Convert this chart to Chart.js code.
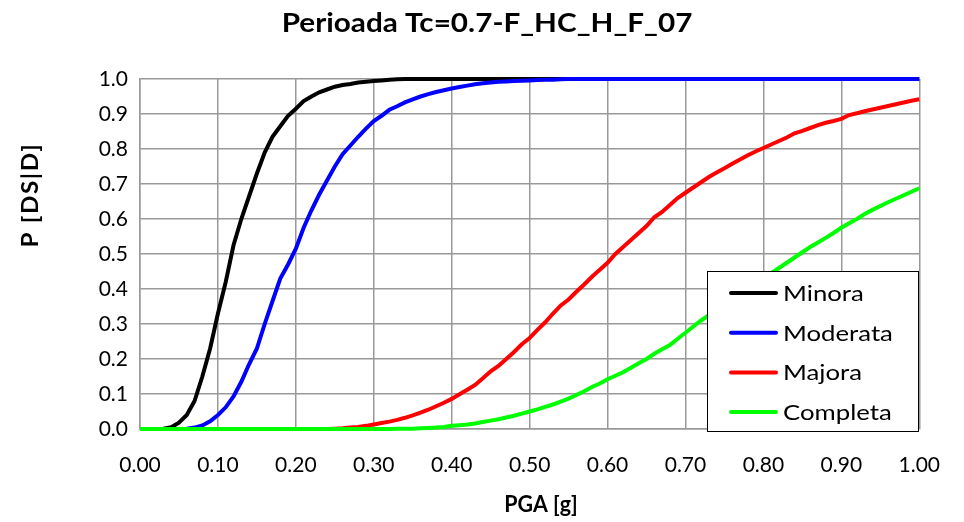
<!DOCTYPE html>
<html lang="ro">
<head>
  <meta charset="UTF-8">
  <title>Perioada Tc=0.7-F_HC_H_F_07</title>
  <script src="https://cdn.jsdelivr.net/npm/chart.js@4.4.1/dist/chart.umd.min.js"></script>
  <style>
    html, body { margin: 0; padding: 0; background: #fff; }
    #wrap { width: 964px; height: 522px; }
  </style>
</head>
<body>
  <div id="wrap"><canvas id="fragility"></canvas></div>
  <script>
    // PGA [g] values along the x axis
    const pga = [
      0.00, 0.01, 0.02, 0.03, 0.04, 0.05, 0.06, 0.07, 0.08, 0.09,
      0.10, 0.11, 0.12, 0.13, 0.14, 0.15, 0.16, 0.17, 0.18, 0.19,
      0.20, 0.21, 0.22, 0.23, 0.24, 0.25, 0.26, 0.27, 0.28, 0.29,
      0.30, 0.31, 0.32, 0.33, 0.34, 0.35, 0.36, 0.37, 0.38, 0.39,
      0.40, 0.41, 0.42, 0.43, 0.44, 0.45, 0.46, 0.47, 0.48, 0.49,
      0.50, 0.51, 0.52, 0.53, 0.54, 0.55, 0.56, 0.57, 0.58, 0.59,
      0.60, 0.61, 0.62, 0.63, 0.64, 0.65, 0.66, 0.67, 0.68, 0.69,
      0.70, 0.71, 0.72, 0.73, 0.74, 0.75, 0.76, 0.77, 0.78, 0.79,
      0.80, 0.81, 0.82, 0.83, 0.84, 0.85, 0.86, 0.87, 0.88, 0.89,
      0.90, 0.91, 0.92, 0.93, 0.94, 0.95, 0.96, 0.97, 0.98, 0.99,
      1.00
    ];

    // P[DS|D] for each damage state
    const minora = [
      0, 0, 0, 0.001, 0.005, 0.018, 0.04, 0.08, 0.15, 0.23,
      0.33, 0.42, 0.525, 0.60, 0.665, 0.73, 0.79, 0.835, 0.865, 0.895,
      0.915, 0.937, 0.95, 0.962, 0.97, 0.978, 0.983, 0.986, 0.99, 0.992,
      0.994, 0.996, 0.998, 0.999, 1, 1, 1, 1, 1, 1,
      1, 1, 1, 1, 1, 1, 1, 1, 1, 1,
      1, 1, 1, 1, 1, 1, 1, 1, 1, 1,
      1, 1, 1, 1, 1, 1, 1, 1, 1, 1,
      1, 1, 1, 1, 1, 1, 1, 1, 1, 1,
      1, 1, 1, 1, 1, 1, 1, 1, 1, 1,
      1, 1, 1, 1, 1, 1, 1, 1, 1, 1,
      1
    ];
    const moderata = [
      0, 0, 0, 0, 0, 0, 0.001, 0.004, 0.01, 0.022,
      0.04, 0.062, 0.093, 0.135, 0.185, 0.23, 0.30, 0.365, 0.43, 0.47,
      0.515, 0.575, 0.625, 0.67, 0.71, 0.75, 0.785, 0.81, 0.835, 0.858,
      0.88, 0.895, 0.912, 0.922, 0.933, 0.942, 0.95, 0.957, 0.963, 0.968,
      0.973, 0.977, 0.981, 0.985, 0.988, 0.99, 0.992, 0.993, 0.994, 0.995,
      0.996, 0.997, 0.998, 0.998, 0.999, 1, 1, 1, 1, 1,
      1, 1, 1, 1, 1, 1, 1, 1, 1, 1,
      1, 1, 1, 1, 1, 1, 1, 1, 1, 1,
      1, 1, 1, 1, 1, 1, 1, 1, 1, 1,
      1, 1, 1, 1, 1, 1, 1, 1, 1, 1,
      1
    ];
    const majora = [
      0, 0, 0, 0, 0, 0, 0, 0, 0, 0,
      0, 0, 0, 0, 0, 0, 0, 0, 0, 0,
      0, 0, 0, 0, 0, 0.001, 0.002, 0.004, 0.006, 0.009,
      0.013, 0.017, 0.021, 0.026, 0.032, 0.039, 0.047, 0.055, 0.065, 0.075,
      0.086, 0.099, 0.112, 0.126, 0.145, 0.165, 0.18, 0.20, 0.22, 0.242,
      0.26, 0.283, 0.305, 0.33, 0.353, 0.37, 0.392, 0.413, 0.435, 0.455,
      0.475, 0.50, 0.52, 0.54, 0.56, 0.58, 0.605, 0.62, 0.64, 0.66,
      0.675, 0.69, 0.705, 0.72, 0.733, 0.745, 0.758, 0.77, 0.782, 0.793,
      0.803, 0.813, 0.823, 0.833, 0.845, 0.852, 0.86, 0.868, 0.875, 0.88,
      0.886, 0.897, 0.902, 0.908, 0.913, 0.918, 0.923, 0.928, 0.933, 0.938,
      0.942
    ];
    const completa = [
      0, 0, 0, 0, 0, 0, 0, 0, 0, 0,
      0, 0, 0, 0, 0, 0, 0, 0, 0, 0,
      0, 0, 0, 0, 0, 0, 0, 0, 0, 0,
      0, 0, 0, 0.0005, 0.001, 0.001, 0.002, 0.003, 0.004, 0.006,
      0.009, 0.011, 0.013, 0.016, 0.02, 0.024, 0.028, 0.033, 0.038, 0.044,
      0.05, 0.056, 0.063, 0.07, 0.078, 0.087, 0.097, 0.108, 0.12, 0.13,
      0.142, 0.152, 0.162, 0.175, 0.188, 0.20, 0.215, 0.228, 0.24, 0.258,
      0.275, 0.293, 0.31, 0.325, 0.34, 0.355, 0.37, 0.385, 0.40, 0.415,
      0.43, 0.445, 0.46, 0.475, 0.49, 0.505, 0.52, 0.533, 0.546, 0.56,
      0.575, 0.588, 0.60, 0.614, 0.626, 0.637, 0.648, 0.658, 0.668, 0.678,
      0.688
    ];

    const seriesNames = ['Minora', 'Moderata', 'Majora', 'Completa'];
    const seriesColors = ['#000000', '#0000ff', '#ff0000', '#00ff00'];
    const seriesValues = [minora, moderata, majora, completa];

    const chartTitle = 'Perioada Tc=0.7-F_HC_H_F_07';
    const xTitle = 'PGA [g]';
    const yTitle = 'P [DS|D]';

    const FONT = 'Lato, "Liberation Sans", sans-serif';
    const GRID = '#999999';

    // text drawn with a horizontal stretch, at (x, y)
    function wideText(ctx, text, x, y, sx) {
      ctx.save();
      ctx.translate(x, y);
      ctx.scale(sx, 1);
      ctx.fillText(text, 0, 0);
      ctx.restore();
    }

    // titles and the boxed legend inside the plot are drawn by hand
    const decorations = {
      id: 'decorations',
      afterDraw(chart) {
        const ctx = chart.ctx;
        ctx.save();
        ctx.fillStyle = '#000';
        ctx.textAlign = 'center';
        ctx.textBaseline = 'middle';

        ctx.font = 'bold 27px ' + FONT;
        wideText(ctx, chartTitle, 487, 23, 1.1);

        ctx.font = 'bold 23px ' + FONT;
        wideText(ctx, xTitle, 541, 505, 0.93);

        ctx.save();
        ctx.translate(31, 195);
        ctx.rotate(-Math.PI / 2);
        ctx.font = 'bold 22px ' + FONT;
        ctx.letterSpacing = '1.5px';
        wideText(ctx, yTitle, 0, 0, 1.1);
        ctx.restore();

        // legend box
        const lx = 707, ly = 271, lw = 211, lh = 160;
        ctx.fillStyle = '#fff';
        ctx.fillRect(lx, ly, lw, lh);
        ctx.strokeStyle = '#000';
        ctx.lineWidth = 1;
        ctx.strokeRect(lx + 0.5, ly + 0.5, lw, lh);

        ctx.font = '22px ' + FONT;
        ctx.textAlign = 'left';
        seriesNames.forEach((name, i) => {
          const y = 293 + i * 39.7;
          ctx.strokeStyle = seriesColors[i];
          ctx.lineWidth = 4;
          ctx.lineCap = 'round';
          ctx.beginPath();
          ctx.moveTo(731, y);
          ctx.lineTo(776, y);
          ctx.stroke();
          ctx.fillStyle = '#000';
          wideText(ctx, name, 783, y + 1, 1.17);
        });
        ctx.restore();
      }
    };

    const datasets = seriesNames.map((name, i) => ({
      label: name,
      data: pga.map((x, j) => ({ x: x, y: seriesValues[i][j] })),
      borderColor: seriesColors[i],
      backgroundColor: seriesColors[i],
      borderWidth: 4,
      pointRadius: 0,
      tension: 0,
      fill: false,
      clip: 6,
      order: seriesNames.length - i
    }));

    new Chart(document.getElementById('fragility'), {
      type: 'line',
      data: { datasets: datasets },
      options: {
        responsive: true,
        maintainAspectRatio: false,
        animation: false,
        layout: { padding: { top: 79, right: 44, bottom: 0, left: 0 } },
        plugins: {
          legend: { display: false },
          title: { display: false },
          tooltip: { enabled: false }
        },
        scales: {
          x: {
            type: 'linear',
            min: 0,
            max: 1,
            ticks: {
              stepSize: 0.1,
              padding: 24,
              color: '#000',
              font: { family: FONT, size: 21 },
              maxRotation: 0,
              callback: v => v.toFixed(2)
            },
            grid: { color: GRID, lineWidth: 1.5, drawTicks: false },
            border: { color: GRID, width: 1.5 },
            afterFit(scale) { scale.height = 93; }
          },
          y: {
            min: 0,
            max: 1,
            ticks: {
              stepSize: 0.1,
              padding: 12,
              color: '#000',
              font: { family: FONT, size: 21 },
              callback: v => v.toFixed(1)
            },
            grid: { color: GRID, lineWidth: 1.5, drawTicks: false },
            border: { color: GRID, width: 1.5 },
            afterFit(scale) { scale.width = 140; }
          }
        }
      },
      plugins: [decorations]
    });
  </script>
</body>
</html>
